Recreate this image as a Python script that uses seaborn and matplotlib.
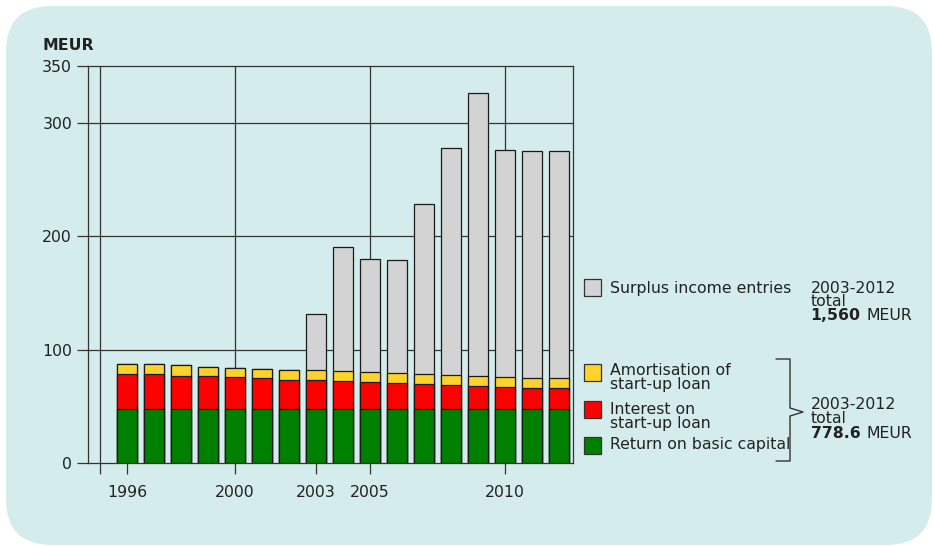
import numpy as np
import pandas as pd
import matplotlib
matplotlib.use("Agg")
import matplotlib.pyplot as plt
import matplotlib.transforms as mtransforms
from matplotlib.patches import FancyBboxPatch, Rectangle
from matplotlib.lines import Line2D
import seaborn as sns

# ---- data (MEUR) ----
years = list(range(1996, 2013))
basic_capital = [47.3] * 17
loan_interest = [31.3, 30.8, 29.8, 29.0, 28.2, 27.3, 26.3,
                 25.6, 24.7, 23.9, 23.0, 22.1, 21.2, 20.3, 19.6, 18.6, 18.6]
loan_amortisation = [8.6, 8.8, 9.0, 8.6, 8.2, 8.4, 8.8,
                     8.8, 8.8, 8.8, 8.8, 8.8, 8.8, 8.8, 8.8, 8.8, 8.8]
surplus_income = [0, 0, 0, 0, 0, 0, 0,
                  50, 110, 100, 100, 150, 200, 250, 200, 200, 200]

series_labels = ["Surplus income entries", "Amortisation of\nstart-up loan",
                 "Interest on\nstart-up loan", "Return on basic capital"]
series_colors = ["#d3d3d3", "#fdd32b", "#ff0000", "#008000"]

x_tick_values = [1995, 1996, 2000, 2003, 2005, 2010]
x_tick_labels = ["", "1996", "2000", "2003", "2005", "2010"]
y_tick_values = [0, 100, 200, 300, 350]

surplus_total_text = "1,560"
base_total_text = "778.6"

# ---- styling ----
sns.set_style("white")
plt.rcParams["font.family"] = ["DejaVu Sans"]
ink = "#222222"
grid_col = "#333333"
bg_col = "#d5ecec"
FS = 11.3

W, H = 933, 546
fig = plt.figure(figsize=(W / 100, H / 100), dpi=100, facecolor="white")
# pixel coordinates with origin at top-left
px = mtransforms.Affine2D().scale(1 / W, -1 / H).translate(0, 1) + fig.transFigure

bg = FancyBboxPatch((6, 6), 926, 539,
                    boxstyle="round,pad=0,rounding_size=46",
                    transform=px, facecolor=bg_col, edgecolor="none", zorder=-5)
fig.patches.append(bg)

L, R, T, B = 88, 573, 66, 463
ax = fig.add_axes([L / W, (H - B) / H, (R - L) / W, (B - T) / H])
ax.set_facecolor("none")
ax.set_zorder(1)

df = pd.DataFrame({
    "year": years,
    "green": basic_capital,
    "red": loan_interest,
    "yellow": loan_amortisation,
    "grey": surplus_income,
})
df["lvl_red"] = df["green"] + df["red"]
df["lvl_yellow"] = df["lvl_red"] + df["yellow"]
df["lvl_grey"] = df["lvl_yellow"] + df["grey"]

bar_kw = dict(native_scale=True, width=0.75, errorbar=None, linewidth=0.9,
              edgecolor="#1a1a1a", saturation=1, ax=ax, zorder=2)
for col, color in zip(["lvl_grey", "lvl_yellow", "lvl_red", "green"], series_colors):
    sns.barplot(data=df, x="year", y=col, color=color, **bar_kw)

ax.set_xlim(1994.55, 2012.52)
ax.set_ylim(0, 350)

for gx in [1995, 2000, 2005, 2010]:
    ax.axvline(gx, color=grid_col, lw=0.9, zorder=0.5)
for gy in [100, 200, 300]:
    ax.axhline(gy, color=grid_col, lw=0.9, zorder=0.5)

ax.set_xticks(x_tick_values)
ax.set_xticklabels(x_tick_labels)
ax.set_yticks(y_tick_values)
ax.set_yticklabels([str(v) for v in y_tick_values])
ax.tick_params(axis="x", direction="out", length=8, width=0.9, color=grid_col,
               pad=7.5, labelsize=FS, labelcolor=ink, bottom=True)
ax.tick_params(axis="y", direction="out", length=8, width=0.9, color=grid_col,
               pad=3.5, labelsize=FS, labelcolor=ink, left=True)
ax.set_xlabel("")
ax.set_ylabel("")
for s in ax.spines.values():
    s.set_visible(True)
    s.set_color(grid_col)
    s.set_linewidth(0.9)

fig.text(43, 50, "MEUR", transform=px, fontsize=FS, fontweight="bold",
         color=ink, va="baseline", ha="left")

# ---- legend ----
legend_rows = [(287.5, [292.5]), (372.5, [375, 389]), (409.5, [413.5, 428]),
               (445.5, [449])]
for (cy, baselines), label, color in zip(legend_rows, series_labels, series_colors):
    fig.patches.append(Rectangle((584, cy - 8.5), 17, 17, transform=px,
                                 facecolor=color, edgecolor="#333333", lw=0.9))
    for line, by in zip(label.split("\n"), baselines):
        fig.text(610.5, by, line, transform=px, fontsize=FS, color=ink,
                 va="baseline", ha="left")

renderer = fig.canvas.get_renderer()


def total_block(x, baselines, value):
    fig.text(x, baselines[0], "2003-2012", transform=px, fontsize=FS,
             color=ink, va="baseline")
    fig.text(x, baselines[1], "total", transform=px, fontsize=FS,
             color=ink, va="baseline")
    t = fig.text(x, baselines[2], value, transform=px, fontsize=FS,
                 fontweight="bold", color=ink, va="baseline")
    wpx = t.get_window_extent(renderer).width
    fig.text(x + wpx + 6, baselines[2], "MEUR", transform=px, fontsize=FS,
             color=ink, va="baseline")


total_block(810.5, [293, 306.5, 320.5], surplus_total_text)
total_block(810.5, [409, 423, 438], base_total_text)

# bracket joining the three lower series
bx = [776, 790, 790, 803, 790, 790, 776]
by = [359, 359, 408, 412, 416, 461, 461]
fig.lines.append(Line2D(bx, by, transform=px, color="#333333", lw=1.0))

fig.savefig("out.png", dpi=100, facecolor="white")
